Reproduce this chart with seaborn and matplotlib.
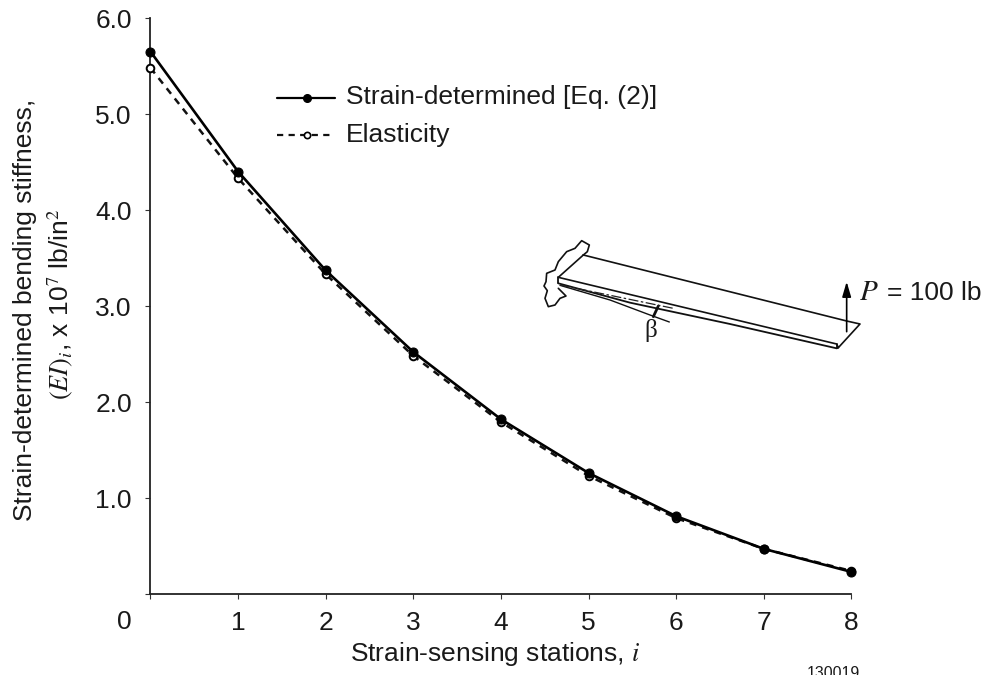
import numpy as np
import pandas as pd
import matplotlib
matplotlib.use("Agg")
import matplotlib.pyplot as plt
import seaborn as sns

stations = [0, 1, 2, 3, 4, 5, 6, 7, 8]
strain_determined = [5.65, 4.40, 3.37, 2.52, 1.82, 1.26, 0.81, 0.47, 0.23]
elasticity = [5.48, 4.33, 3.33, 2.48, 1.79, 1.23, 0.79, 0.47, 0.24]
x_ticks = [0, 1, 2, 3, 4, 5, 6, 7, 8]
x_labels = ["", "1", "2", "3", "4", "5", "6", "7", "8"]
y_ticks = [0, 1, 2, 3, 4, 5, 6]
y_labels = ["", "1.0", "2.0", "3.0", "4.0", "5.0", "6.0"]

sns.set_theme(style="ticks")
plt.rcParams["font.family"] = ["Liberation Sans", "DejaVu Sans"]
plt.rcParams["mathtext.fontset"] = "stix"
W, H = 987, 675
TXT = "#1a1a1a"
FS = 19
DASH = (0, (2.8, 2.4))
fig = plt.figure(figsize=(W / 100, H / 100), dpi=100, facecolor="white")
ax = fig.add_axes([150.5 / W, 1 - 594 / H, (851.5 - 150.5) / W, (594 - 18) / H])

df = pd.DataFrame({"i": stations, "s": strain_determined, "e": elasticity})
sns.lineplot(data=df, x="i", y="s", ax=ax, color="black", lw=1.9, marker="o", ms=6.5,
             mfc="black", mec="black", clip_on=False, zorder=4)
sns.lineplot(data=df, x="i", y="e", ax=ax, color="#111111", lw=1.8, linestyle=DASH,
             marker="o", ms=5.5, mfc="white", mec="black", mew=1.4, clip_on=False, zorder=3)

ax.set_xlim(0, 8)
ax.set_ylim(0, 6)
ax.set_xticks(x_ticks, x_labels)
ax.set_yticks(y_ticks, y_labels)
ax.tick_params(axis="both", labelsize=FS, length=3.4, width=0.8, color="#333333", labelcolor=TXT)
ax.tick_params(axis="x", pad=9)
ax.tick_params(axis="y", pad=10)
ax.set_xlabel("")
ax.set_ylabel("")
sns.despine(ax=ax)
for s in ("left", "bottom"):
    ax.spines[s].set_linewidth(1.3)
    ax.spines[s].set_color("#222222")

ov = fig.add_axes([0, 0, 1, 1], facecolor="none")
ov.set_xlim(0, W)
ov.set_ylim(H, 0)
ov.axis("off")

ov.text(124, 622, "0", fontsize=FS, color=TXT, ha="center", va="center")
ov.text(495, 654, r"Strain-sensing stations, $\mathit{i}$", fontsize=FS, color=TXT, ha="center", va="center")
ov.text(25, 310, "Strain-determined bending stiffness,", fontsize=FS, color=TXT,
        rotation=90, ha="center", va="center")
ov.text(60, 304, r"$(\mathit{EI})_{\mathit{i}}$, x 10$^{7}$ lb/in$^{2}$", fontsize=FS, color=TXT,
        rotation=90, ha="center", va="center")
ov.text(833, 673, "130019", fontsize=11.4, color=TXT, ha="center", va="center")

# legend
ov.plot([277, 335], [98, 98], color="black", lw=1.6)
ov.plot([307], [98], "o", color="black", ms=5.5)
ov.plot([277, 332], [135, 135], color="#111111", lw=1.6, linestyle=DASH)
ov.plot([307], [135], "o", mfc="white", mec="black", mew=1.2, ms=4.5, zorder=5)
ov.text(346, 97, "Strain-determined [Eq. (2)]", fontsize=FS, color=TXT, ha="left", va="center")
ov.text(346, 135, "Elasticity", fontsize=FS, color=TXT, ha="left", va="center")

# beam sketch, given in crop coordinates of the sketch region
def sk(pts):
    a = np.array(pts, float)
    return 530 + a[:, 0] / 3, 220 + a[:, 1] / 3

sketch_lines = [
    ([(160, 105), (950, 303), (990, 312), (925, 383), (920, 372), (85, 172), (160, 105)], 1.2),
    ([(85, 190), (300, 248), (600, 312), (920, 385), (925, 383)], 1.3),
    ([(85, 172), (85, 190)], 1.3),
    ([(920, 372), (920, 385)], 1.3),
    ([(90, 196), (240, 240), (360, 285), (418, 306)], 1.0),
    ([(385, 258), (370, 290)], 2.0),
    ([(160, 105), (172, 95), (178, 75), (155, 62), (135, 85), (110, 95), (85, 125), (75, 150),
      (50, 160), (48, 185), (42, 198), (52, 212), (45, 235), (55, 260), (75, 255), (90, 235),
      (108, 228), (85, 205)], 1.2),
]
for pts, lw in sketch_lines:
    xs, ys = sk(pts)
    ov.plot(xs, ys, color="#111111", lw=lw, solid_joinstyle="round")
xs, ys = sk([(90, 195), (430, 265)])
ov.plot(xs, ys, color="#222222", lw=0.9, linestyle=(0, (8, 2, 2, 2)))

ax0, ay0 = 530 + 950 / 3, 220 + 335 / 3
ax1, ay1 = 530 + 950 / 3, 220 + 185 / 3
ov.annotate("", xy=(ax1, ay1), xytext=(ax0, ay0),
            arrowprops=dict(arrowstyle="-|>,head_width=0.22,head_length=0.75", color="black", lw=1.2,
                            shrinkA=0, shrinkB=0))
ov.text(859, 292, r"$\mathit{P}$", fontsize=21, color=TXT, ha="left", va="center")
ov.text(887, 293, "= 100 lb", fontsize=FS, color=TXT, ha="left", va="center")
ov.text(651, 331, "β", fontsize=18, color=TXT, ha="center", va="center", family=["Liberation Serif"])

fig.savefig("out.png", dpi=100, facecolor="white")
